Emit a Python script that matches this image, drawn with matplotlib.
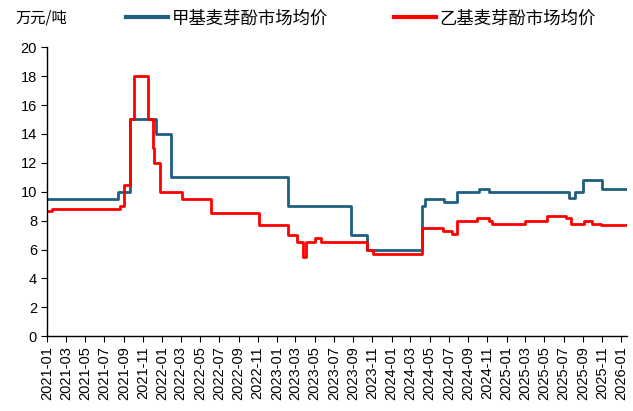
import numpy as np
import pandas as pd
import matplotlib
matplotlib.use('Agg')
import matplotlib.pyplot as plt
import matplotlib.dates as mdates

plt.rcParams['font.family'] = ['Liberation Sans', 'Noto Sans CJK SC', 'DejaVu Sans']

# ── 数据（读图估计，阶梯变化点） ─────────────────────────────
methyl_dates = ['2021-01-01', '2021-08-13', '2021-09-22', '2021-12-12', '2022-01-30',
                '2023-02-05', '2023-08-24', '2023-10-16', '2024-04-08', '2024-04-16',
                '2024-06-16', '2024-07-28', '2024-10-06', '2024-11-07', '2025-07-18',
                '2025-08-08', '2025-09-01', '2025-10-30', '2026-01-15']
methyl_vals = [9.5, 10.0, 15.0, 14.0, 11.0,
               9.0, 7.0, 6.0, 9.0, 9.5,
               9.3, 10.0, 10.2, 10.0, 9.6,
               10.0, 10.8, 10.2, 10.2]

ethyl_dates = ['2021-01-01', '2021-01-14', '2021-08-20', '2021-09-03', '2021-09-21',
               '2021-10-04', '2021-11-16', '2021-12-02', '2021-12-07', '2021-12-25',
               '2022-03-06', '2022-06-05', '2022-11-04', '2023-02-05', '2023-03-05',
               '2023-03-25', '2023-04-03', '2023-05-02', '2023-05-20', '2023-10-16',
               '2023-11-02', '2024-04-08', '2024-06-11', '2024-07-12', '2024-07-28',
               '2024-09-30', '2024-11-07', '2024-11-17', '2025-02-27', '2025-05-10',
               '2025-07-08', '2025-07-24', '2025-09-05', '2025-09-29', '2025-10-27',
               '2026-01-15']
ethyl_vals = [8.7, 8.8, 9.0, 10.5, 15.0,
              18.0, 15.0, 13.0, 12.0, 10.0,
              9.5, 8.5, 7.7, 7.0, 6.5,
              5.5, 6.5, 6.8, 6.5, 6.0,
              5.7, 7.5, 7.3, 7.1, 8.0,
              8.2, 8.0, 7.8, 8.0, 8.3,
              8.2, 7.8, 8.0, 7.8, 7.7,
              7.7]

label_methyl = '甲基麦芽酚市场均价'
label_ethyl = '乙基麦芽酚市场均价'
unit_label = '万元/吨'

BLUE = '#1F5F80'
RED = '#FF0000'

# ── 图形 ────────────────────────────────────────────────────
fig = plt.figure(figsize=(6.33, 4.11), dpi=100)
ax = fig.add_axes([0.075, 0.182, 0.915, 0.703])

ax.plot(pd.to_datetime(methyl_dates), methyl_vals, drawstyle='steps-post',
        color=BLUE, lw=2.0, label=label_methyl)
ax.plot(pd.to_datetime(ethyl_dates), ethyl_vals, drawstyle='steps-post',
        color=RED, lw=2.0, label=label_ethyl)

ax.set_ylim(0, 20)
ax.set_yticks(np.arange(0, 21, 2))
ax.set_xlim(pd.Timestamp('2021-01-01'), pd.Timestamp('2026-01-18'))
ax.xaxis.set_major_locator(mdates.MonthLocator(bymonth=[1, 3, 5, 7, 9, 11]))
ax.xaxis.set_major_formatter(mdates.DateFormatter('%Y-%m'))
plt.setp(ax.get_xticklabels(), rotation=90)

for s in ['top', 'right']:
    ax.spines[s].set_visible(False)
for s in ['left', 'bottom']:
    ax.spines[s].set_color('#000000')
    ax.spines[s].set_linewidth(1.0)
ax.tick_params(axis='y', labelsize=10.5, length=4, direction='out')
ax.tick_params(axis='x', labelsize=10.5, length=4, direction='out')

fig.text(0.025, 0.955, unit_label, fontsize=11, family=['Noto Sans CJK SC'], va='center')

leg = fig.legend(loc='center left', bbox_to_anchor=(0.186, 0.955), ncol=2,
                 frameon=False, handlelength=2.4, handletextpad=0.2,
                 columnspacing=3.8, borderpad=0.0,
                 prop={'family': 'Noto Sans CJK SC', 'size': 12.5})
for ln in leg.get_lines():
    ln.set_linewidth(3.0)

fig.savefig('out.png', dpi=100)
